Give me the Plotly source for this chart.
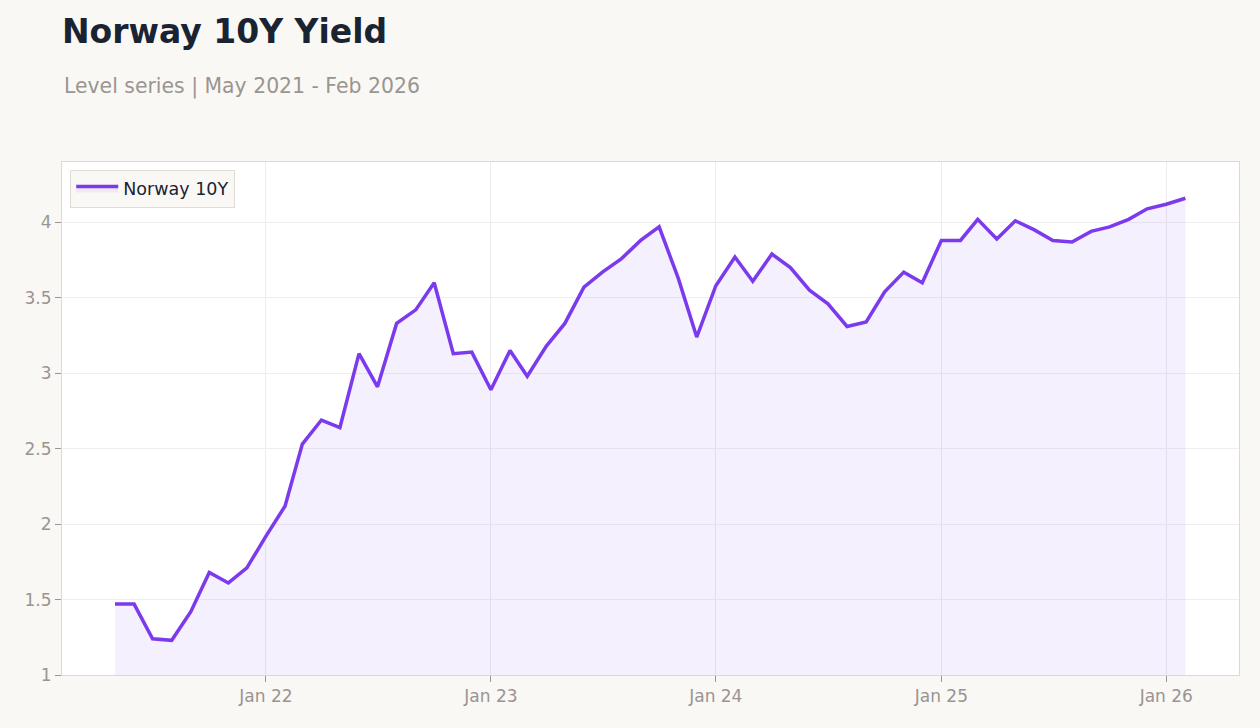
import pandas as pd
import plotly.graph_objects as go

# monthly 10Y yield, May 2021 - Feb 2026
months = pd.date_range("2021-05-01", "2026-02-01", freq="MS")
yield_10y = [
    1.47, 1.47, 1.24, 1.23, 1.42, 1.68, 1.61, 1.71,
    1.92, 2.12, 2.53, 2.69, 2.64, 3.13, 2.91, 3.33, 3.42, 3.60, 3.13, 3.14,
    2.89, 3.15, 2.98, 3.18, 3.33, 3.57, 3.67, 3.76, 3.88, 3.97, 3.63, 3.24,
    3.58, 3.77, 3.61, 3.79, 3.70, 3.55, 3.46, 3.31, 3.34, 3.54, 3.67, 3.60,
    3.88, 3.88, 4.02, 3.89, 4.01, 3.95, 3.88, 3.87, 3.94, 3.97, 4.02, 4.09,
    4.12, 4.16,
]
series_name = "Norway 10Y"
title_text = "Norway 10Y Yield"
subtitle_text = "Level series | May 2021 - Feb 2026"

purple = "#7c3aed"
paper = "#f9f8f5"
font_family = "DejaVu Sans"

fig = go.Figure()
fig.add_trace(go.Scatter(
    x=months, y=yield_10y, name=series_name, mode="lines",
    line=dict(color=purple, width=3.5),
    fill="tozeroy", fillcolor="rgba(124,58,237,0.08)",
))

fig.update_layout(
    width=1260, height=728,
    margin=dict(l=62, r=21, t=162, b=53),
    paper_bgcolor=paper,
    plot_bgcolor="#ffffff",
    font=dict(family=font_family, size=16, color="#999490"),
    title=dict(
        text="<b>" + title_text + "</b>",
        font=dict(family=font_family, size=33, color="#1a2332"),
        x=62 / 1260, xanchor="left", xref="container",
        y=1 - 31 / 728, yanchor="middle", yref="container",
    ),
    showlegend=True,
    legend=dict(
        x=0.007, y=0.985, xanchor="left", yanchor="top",
        bgcolor=paper, bordercolor="#e0dcd3", borderwidth=1,
        itemwidth=42,
        font=dict(family=font_family, size=17.5, color="#1a2332"),
    ),
)

fig.add_annotation(
    text=subtitle_text, xref="paper", yref="paper",
    x=0, y=(675 - 86) / 513, xanchor="left", yanchor="middle",
    showarrow=False, font=dict(family=font_family, size=20.4, color="#9a9590"),
)

fig.update_xaxes(
    range=["2021-02-04", "2026-04-29"],
    tickformat="%b %y", dtick="M12", tick0="2022-01-01",
    showgrid=True, gridcolor="#eeeaf0", gridwidth=1,
    showline=True, linecolor="#ddd8d0", linewidth=1, mirror=True,
    ticks="outside", ticklen=6, tickcolor="#999490",
    tickfont=dict(size=17, color="#999490"),
    zeroline=False,
)
fig.update_yaxes(
    range=[1, 4.4], dtick=0.5,
    showgrid=True, gridcolor="#f0eeee", gridwidth=1,
    showline=True, linecolor="#ddd8d0", linewidth=1, mirror=True,
    ticks="outside", ticklen=6, tickcolor="#999490",
    tickfont=dict(size=17, color="#999490"),
    zeroline=False,
)

# no page margin so the figure fills the window
fig.write_html(
    "out.html",
    config={"displayModeBar": False},
    post_script="document.body.style.margin='0';document.body.style.background='" + paper + "';",
)
